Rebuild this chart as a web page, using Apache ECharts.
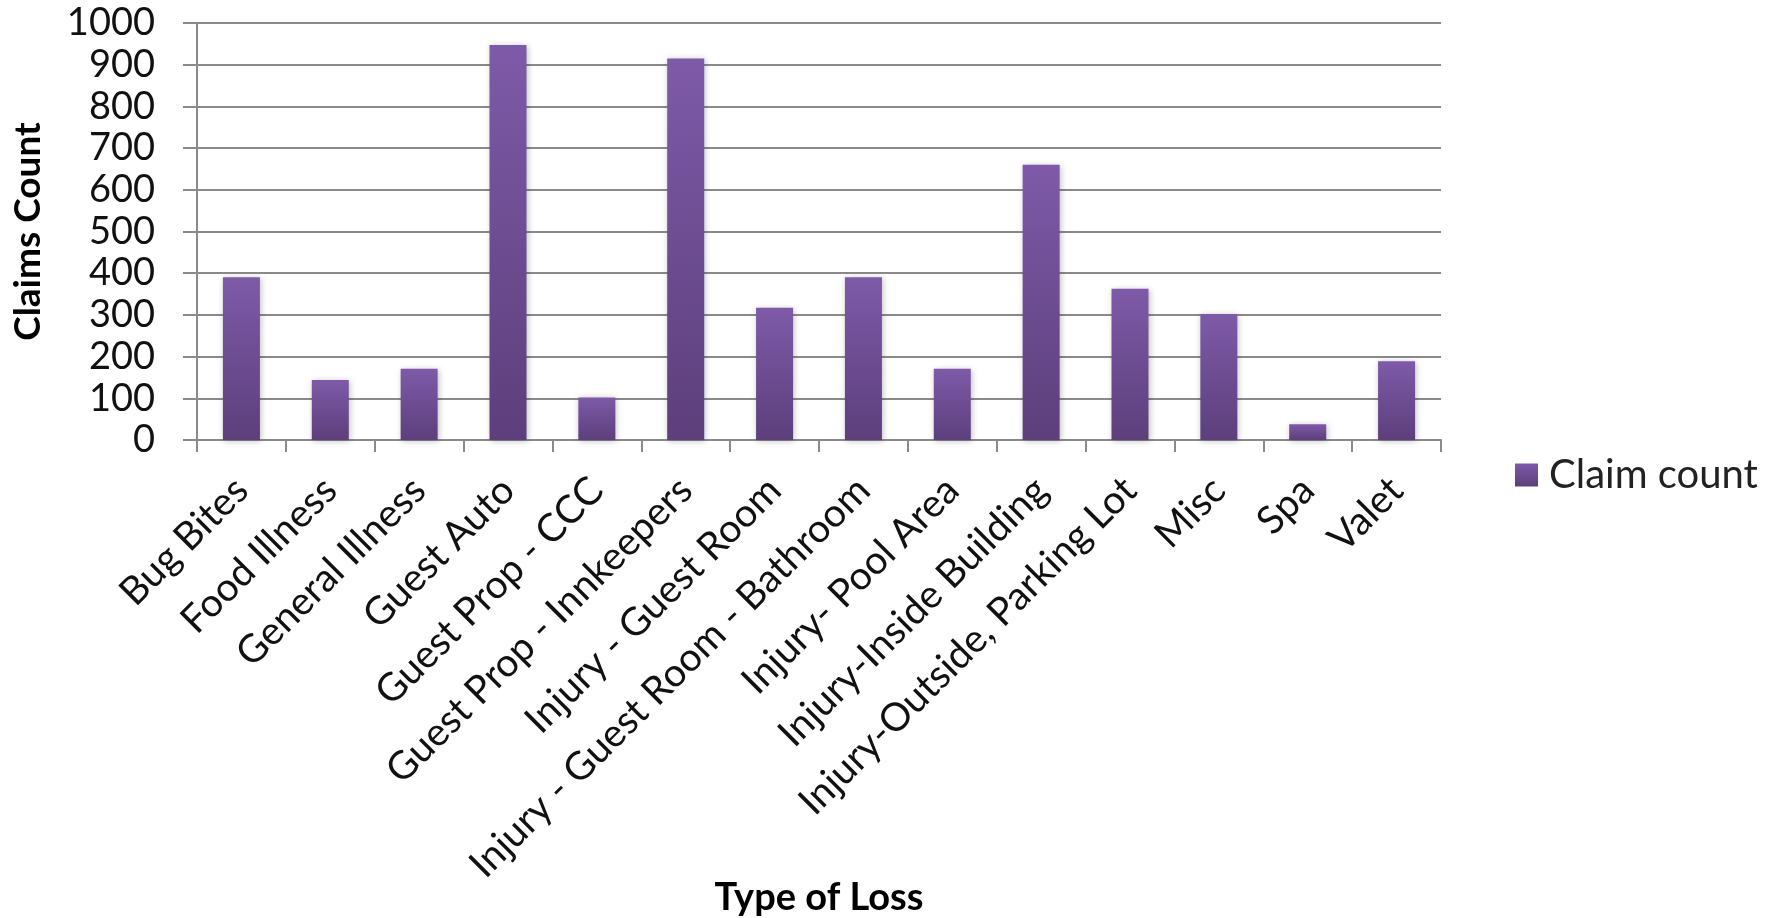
<!DOCTYPE html>
<html>
<head>
<meta charset="utf-8">
<script src="https://cdn.jsdelivr.net/npm/echarts@6/dist/echarts.min.js"></script>
<style>
html,body{margin:0;padding:0;background:#fff;}
#chart{width:1772px;height:918px;}
</style>
</head>
<body>
<div id="chart"></div>
<script>
const categories = ["Bug Bites","Food Illness","General Illness","Guest Auto","Guest Prop - CCC","Guest Prop - Innkeepers","Injury - Guest Room","Injury - Guest Room - Bathroom","Injury- Pool Area","Injury-Inside Building","Injury-Outside, Parking Lot","Misc","Spa","Valet"];
const claimCount = [390,144,171,947,102,915,317,390,171,660,363,302,38,189];
const seriesName = "Claim count";
const yTicks = {min:0, max:1000, interval:100};

const FONT = "Lato";
const chart = echarts.init(document.getElementById('chart'), null, {renderer:'canvas'});
chart.setOption({
  backgroundColor:'#ffffff',
  animation:false,
  grid:{left:197, right:331, top:23, bottom:478, containLabel:false, outerBoundsMode:'none'},
  legend:{
    data:[seriesName],
    left:1510, top:450,
    itemWidth:23, itemHeight:23, itemGap:10,
    icon:'rect',
    textStyle:{fontFamily:FONT, fontSize:40, color:'#222', padding:[0,0,0,6]}
  },
  xAxis:{
    type:'category',
    data:categories,
    name:'Type of Loss',
    nameLocation:'middle',
    nameGap:439,
    nameMoveOverlap:false,
    nameTextStyle:{fontFamily:FONT, fontWeight:'bold', fontSize:38, color:'#000'},
    axisLine:{lineStyle:{color:'#8a8a8a', width:2}},
    axisTick:{show:true, alignWithLabel:false, length:12, lineStyle:{color:'#8a8a8a', width:2}},
    axisLabel:{rotate:45, interval:0, margin:44, fontFamily:FONT, fontSize:39, color:'#111'}
  },
  yAxis:{
    type:'value',
    min:yTicks.min, max:yTicks.max, interval:yTicks.interval,
    name:'Claims Count',
    nameLocation:'middle',
    nameGap:150,
    nameRotate:90,
    nameTextStyle:{fontFamily:FONT, fontWeight:'bold', fontSize:37, color:'#000'},
    axisLine:{show:true, lineStyle:{color:'#8a8a8a', width:2}},
    axisTick:{show:true, length:14, lineStyle:{color:'#8a8a8a', width:2}},
    splitLine:{show:true, lineStyle:{color:'#8a8a8a', width:2}},
    axisLabel:{margin:42, fontFamily:FONT, fontSize:38, color:'#111', formatter:function(v){return String(v);}}
  },
  series:[{
    name:seriesName,
    type:'bar',
    data:claimCount,
    barWidth:37,
    itemStyle:{
      color:new echarts.graphic.LinearGradient(0,0,0,1,[
        {offset:0,color:'#7e5aa8'},
        {offset:1,color:'#5c3f7b'}
      ]),
      shadowColor:'rgba(0,0,0,0.25)',
      shadowBlur:6,
      shadowOffsetX:1,
      shadowOffsetY:1
    }
  }]
});
</script>
</body>
</html>
